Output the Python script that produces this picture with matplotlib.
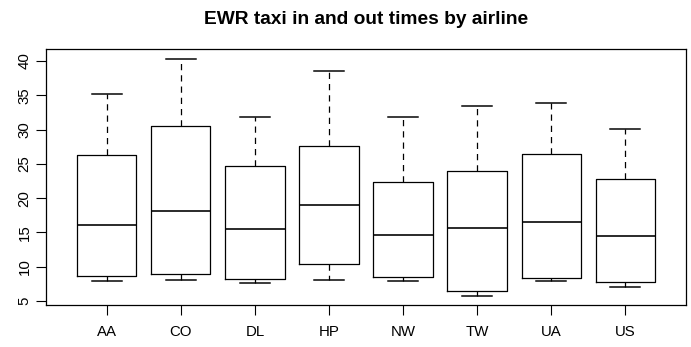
import matplotlib
matplotlib.use("Agg")
import matplotlib.pyplot as plt

airlines = ["AA", "CO", "DL", "HP", "NW", "TW", "UA", "US"]
whisker_low = [7.96, 8.11, 7.67, 8.11, 7.92, 5.78, 7.92, 7.00]
q1 = [8.65, 8.99, 8.26, 10.40, 8.55, 6.41, 8.31, 7.72]
median = [16.08, 18.17, 15.55, 19.00, 14.62, 15.70, 16.47, 14.48]
q3 = [26.29, 30.57, 24.69, 27.60, 22.40, 24.00, 26.49, 22.74]
whisker_high = [35.19, 40.34, 31.78, 38.59, 31.88, 33.49, 33.93, 30.08]
y_ticks = [5, 10, 15, 20, 25, 30, 35, 40]

plt.rcParams['font.family'] = ['Liberation Sans', 'DejaVu Sans']

W, H = 691, 347
fig = plt.figure(figsize=(W / 100, H / 100), dpi=100)
ax = fig.add_axes([46 / W, (H - 305) / H, (686 - 46) / W, (305 - 49) / H])

stats = []
for i, name in enumerate(airlines):
    stats.append(dict(label=name, whislo=whisker_low[i], q1=q1[i], med=median[i],
                      q3=q3[i], whishi=whisker_high[i], fliers=[]))

lw = 0.9
ax.bxp(stats, positions=range(1, len(airlines) + 1), widths=0.8, showfliers=False,
       boxprops=dict(color='black', linewidth=lw),
       medianprops=dict(color='black', linewidth=lw * 1.3),
       whiskerprops=dict(color='black', linewidth=lw, linestyle=(0, (5, 4))),
       capprops=dict(color='black', linewidth=lw * 1.2),
       capwidths=0.4)

ax.set_xlim(0.18, 8.82)
ax.set_ylim(4.42, 41.75)
ax.set_xticks(range(1, len(airlines) + 1))
ax.set_xticklabels(airlines)
ax.set_yticks(y_ticks)
ax.set_yticklabels([str(t) for t in y_ticks], rotation=90, va='center')
ax.tick_params(axis='both', length=7.5, width=0.8, labelsize=10.8, direction='out')
ax.tick_params(axis='x', pad=7)
ax.tick_params(axis='y', pad=3)
for sp in ax.spines.values():
    sp.set_linewidth(0.9)

fig.text((46 + 686) / 2 / W, 1 - 19.5 / H, "EWR taxi in and out times by airline",
         ha='center', va='center', fontsize=13.8, fontweight='bold')

fig.savefig("out.png", dpi=100)
